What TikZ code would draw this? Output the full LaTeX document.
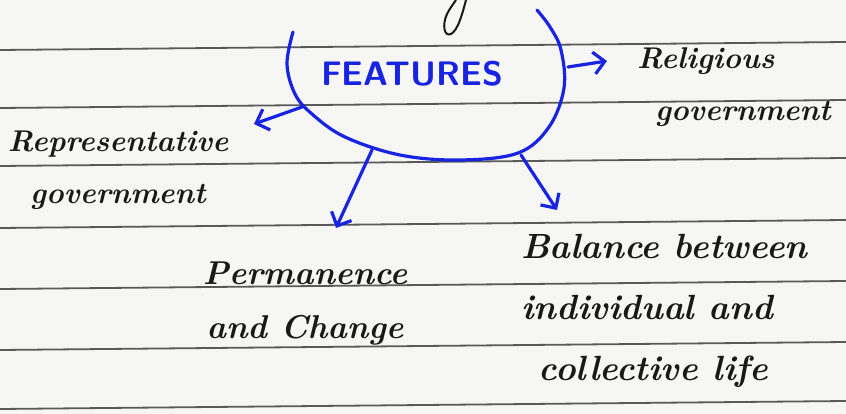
\documentclass[tikz,border=0pt]{standalone}
\usepackage{tikz}
\usetikzlibrary{arrows.meta}

\definecolor{ink}{RGB}{24,36,225}
\definecolor{pencil}{RGB}{25,25,25}
\definecolor{paper}{RGB}{246,246,244}
\definecolor{ruling}{RGB}{90,90,90}

\tikzset{
    ruleline/.style={ruling, line width=1.8pt},
    note/.style={pencil, inner sep=0pt, font=\fontsize{30}{52}\selectfont\bfseries\itshape},
    inkline/.style={ink, line width=3.2pt, line cap=round, line join=round},
    inkarrow/.style={inkline, -{Straight Barb[length=11pt,width=22pt]}},
}

\begin{document}
\begin{tikzpicture}[x=1pt,y=-1pt]

    \fill[paper] (0,0) rectangle (846,414);
    \useasboundingbox (0,0) rectangle (846,414);

    % ruled lines of the page
    \foreach \y in {50,108,166,228,289,350,409}
        \draw[ruleline] (0,\y) -- (846,\y-8);

    % tail of a letter from the line above
    \draw[pencil, line width=2pt] (466,0) .. controls (462,15) and (458,30) .. (451,34)
        .. controls (444,37) and (442,25) .. (447,14) .. controls (450,8) and (454,3) .. (456,0);

    \node[ink, inner sep=0pt, font=\fontsize{34}{34}\selectfont\sffamily\bfseries] (features) at (412,74) {FEATURES};

    % the bowl round the title
    \draw[inkline] plot[smooth, tension=0.6] coordinates {(293,32) (287,64) (295,94) (312,114)
        (345,137) (400,155) (460,160) (518,153) (549,127) (564,88) (561,50) (550,27) (537,10)};

    \coordinate (bowlE) at (568,67);
    \coordinate (bowlW) at (302,107);
    \coordinate (bowlSW) at (372,150);
    \coordinate (bowlSE) at (521,155);
    \coordinate (tipE) at (607,61);
    \coordinate (tipW) at (254,124);
    \coordinate (tipSW) at (336,228);
    \coordinate (tipSE) at (557,210);

    \node[note, anchor=north west, align=left] (religious) at (637,47) {Religious\\\hspace*{0.6em}government};
    \node[note, anchor=north, align=center] (representative) at (118,131) {Representative\\government};
    \node[note, anchor=north, align=center, font=\fontsize{33}{54}\selectfont\bfseries\itshape] (permanence) at (305,262)
        {Permanence\\and Change};
    \node[note, anchor=north west, align=left, font=\fontsize{35}{61}\selectfont\bfseries\itshape] (balance) at (521,234)
        {Balance between\\individual and\\\hspace*{0.5em}collective life};

    \draw[inkarrow] (bowlE) -- (tipE);
    \draw[inkarrow] (bowlW) -- (tipW);
    \draw[inkarrow] (bowlSW) -- (tipSW);
    \draw[inkarrow] (bowlSE) -- (tipSE);

\end{tikzpicture}
\end{document}
